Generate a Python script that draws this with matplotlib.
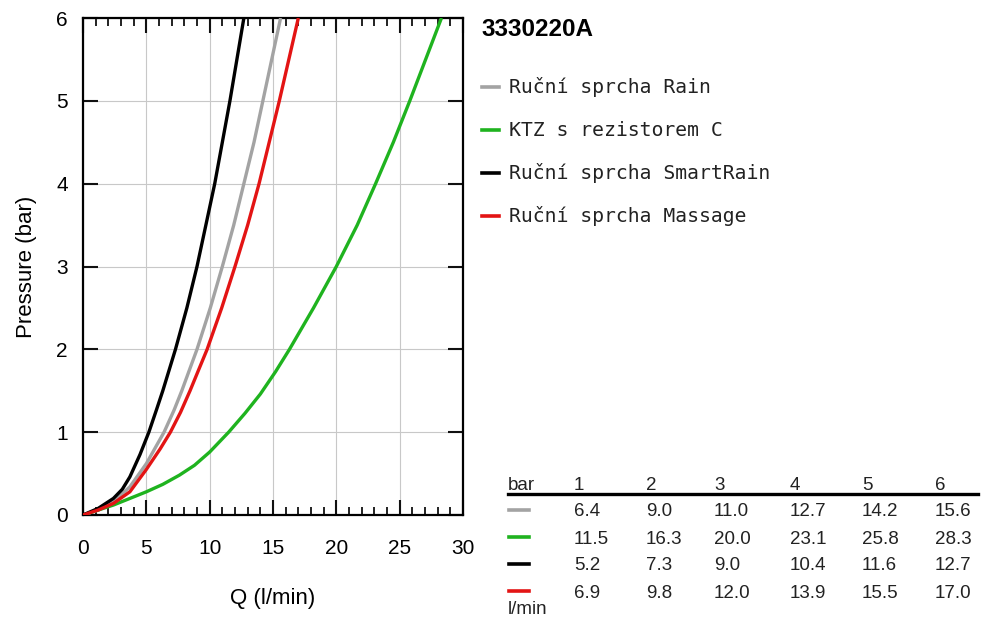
import numpy as np
import matplotlib
matplotlib.use("Agg")
import matplotlib.pyplot as plt
from matplotlib.ticker import MultipleLocator

q_rain = [0, 1.2, 2.4, 3.7, 5.0, 6.4, 7.2, 7.8, 8.4, 9.0, 10.05, 11.0, 11.9, 12.7, 13.5, 14.2, 14.9, 15.6]
p_rain = [0, 0.06, 0.16, 0.34, 0.62, 1.0, 1.27, 1.5, 1.75, 2.0, 2.5, 3.0, 3.5, 4.0, 4.5, 5.0, 5.5, 6.0]
q_ktz = [0, 2.4, 3.7, 5.0, 6.3, 7.6, 8.8, 10.0, 11.5, 12.8, 14.0, 15.2, 16.3, 18.2, 20.0, 21.65, 23.1, 24.5, 25.8, 27.05, 28.3]
p_ktz = [0, 0.12, 0.2, 0.28, 0.37, 0.48, 0.6, 0.76, 1.0, 1.23, 1.46, 1.73, 2.0, 2.5, 3.0, 3.5, 4.0, 4.5, 5.0, 5.5, 6.0]
q_smart = [0, 1.2, 2.4, 3.1, 3.7, 4.5, 5.2, 5.8, 6.3, 6.8, 7.3, 8.2, 9.0, 9.7, 10.4, 11.0, 11.6, 12.15, 12.7]
p_smart = [0, 0.08, 0.2, 0.31, 0.46, 0.73, 1.0, 1.27, 1.5, 1.75, 2.0, 2.5, 3.0, 3.5, 4.0, 4.5, 5.0, 5.5, 6.0]
q_mass = [0, 1.2, 2.4, 3.7, 5.0, 6.1, 6.9, 7.7, 8.45, 9.15, 9.8, 10.95, 12.0, 13.0, 13.9, 14.7, 15.5, 16.25, 17.0]
p_mass = [0, 0.06, 0.14, 0.28, 0.55, 0.8, 1.0, 1.24, 1.5, 1.76, 2.0, 2.5, 3.0, 3.5, 4.0, 4.5, 5.0, 5.5, 6.0]

names = ["Ruční sprcha Rain", "KTZ s rezistorem C", "Ruční sprcha SmartRain", "Ruční sprcha Massage"]
colors = ["#a3a3a3", "#1fb31f", "#000000", "#e31414"]

# table
bars = ["1", "2", "3", "4", "5", "6"]
tab_rain = ["6.4", "9.0", "11.0", "12.7", "14.2", "15.6"]
tab_ktz = ["11.5", "16.3", "20.0", "23.1", "25.8", "28.3"]
tab_smart = ["5.2", "7.3", "9.0", "10.4", "11.6", "12.7"]
tab_mass = ["6.9", "9.8", "12.0", "13.9", "15.5", "17.0"]

W, H = 993, 634
plt.rcParams['font.family'] = ['Liberation Sans', 'DejaVu Sans']
fig = plt.figure(figsize=(W / 100, H / 100), dpi=100)

def fx(px):
    return px / W

def fy(py):
    return 1 - py / H

ax = fig.add_axes([fx(83), fy(515), fx(463) - fx(83), fy(18) - fy(515)])
for q, p, c in zip([q_rain, q_ktz, q_smart, q_mass], [p_rain, p_ktz, p_smart, p_mass], colors):
    ax.plot(q, p, color=c, lw=2.4, solid_capstyle='butt', solid_joinstyle='round', zorder=3)

ax.set_xlim(0, 30)
ax.set_ylim(0, 6)
ax.xaxis.set_major_locator(MultipleLocator(5))
ax.xaxis.set_minor_locator(MultipleLocator(1))
ax.yaxis.set_major_locator(MultipleLocator(1))
ax.grid(True, which='major', color='#c8c8c8', lw=0.8)
ax.tick_params(which='major', direction='in', length=11, width=1.5, top=True, right=True,
               labelsize=15, color='#111111')
ax.tick_params(axis='x', which='major', pad=17)
ax.tick_params(axis='y', which='major', pad=11)
ax.tick_params(which='minor', direction='in', length=6, width=1.3, top=True, color='#111111')
for s in ax.spines.values():
    s.set_linewidth(1.6)
ax.set_xlabel("Q (l/min)", fontsize=16, labelpad=22)
ax.set_ylabel("Pressure (bar)", fontsize=16, labelpad=14)

fig.text(fx(481), fy(29), "3330220A", fontsize=17.5, fontweight='bold', va='center', ha='left')

# legend
leg_y = [87, 130, 173, 216]
for y, n, c in zip(leg_y, names, colors):
    fig.add_artist(plt.Line2D([fx(482), fx(499)], [fy(y), fy(y)], color=c, lw=2.6))
    fig.text(fx(509), fy(y), n, fontsize=14.2, family='DejaVu Sans Mono', va='center',
             ha='left', color='#222222')

# table
col_x = [574, 646, 714, 790, 862, 935]
fig.text(fx(508), fy(486), "bar", fontsize=13.5, va='center', color='#222222')
for x, b in zip(col_x, bars):
    fig.text(fx(x), fy(486), b, fontsize=13.5, va='center', color='#222222')
fig.add_artist(plt.Line2D([fx(508), fx(978)], [fy(494), fy(494)], color='black', lw=2.4))
row_y = [512, 539, 566, 593]
for y, row, c in zip(row_y, [tab_rain, tab_ktz, tab_smart, tab_mass], colors):
    fig.add_artist(plt.Line2D([fx(509), fx(529)], [fy(y - 2), fy(y - 2)], color=c, lw=2.6))
    for x, v in zip(col_x, row):
        fig.text(fx(x), fy(y), v, fontsize=13.5, va='center', color='#222222')
fig.text(fx(508), fy(609), "l/min", fontsize=13.5, va='center', color='#222222')

fig.savefig("out.png", dpi=100)
